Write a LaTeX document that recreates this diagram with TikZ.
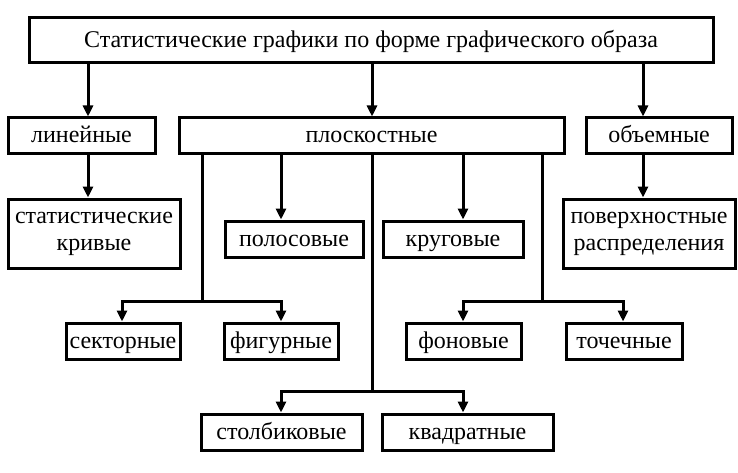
\documentclass[tikz,border=0pt]{standalone}
\usepackage{fontspec}
\setmainfont{Liberation Serif}
\usetikzlibrary{arrows.meta}
\newcommand{\toprule}{\rule{0pt}{16pt}}
\newcommand{\botrule}{\rule[-10pt]{0pt}{10pt}}
\begin{document}
\begin{tikzpicture}[x=1pt,y=-1pt,
  boxbase/.style={draw,line width=3pt,inner sep=0pt,align=center,font=\fontsize{24}{27}\selectfont},
  box/.style={boxbase,text height=18pt,text depth=4pt},
  twobox/.style={boxbase},
  conn/.style={line width=3pt},
  arr/.style={conn,-{Triangle[width=10pt,length=11pt]}}]
\useasboundingbox (0,0) rectangle (738,473);
\node[box,minimum width=684pt,minimum height=45pt] (top) at (371,40.5) {Статистические графики по форме графического образа};
\node[box,minimum width=147pt,minimum height=36pt] (lin) at (81.5,136) {линейные};
\node[box,minimum width=385pt,minimum height=36pt] (plo) at (371.5,136) {плоскостные};
\node[box,minimum width=146pt,minimum height=36pt] (obe) at (659,136) {объемные};
\node[twobox,minimum width=172pt,minimum height=69pt] (sta) at (94,233.5) {\toprule статистические\\кривые\botrule};
\node[box,minimum width=138pt,minimum height=36pt] (pol) at (294,239) {полосовые};
\node[box,minimum width=140pt,minimum height=36pt] (kru) at (453,239) {круговые};
\node[twobox,minimum width=172pt,minimum height=69pt] (pov) at (649,233.5) {\toprule поверхностные\\распределения\botrule};
\node[box,minimum width=114pt,minimum height=36pt] (sek) at (123,341) {секторные};
\node[box,minimum width=114pt,minimum height=36pt] (fig) at (281,341) {фигурные};
\node[box,minimum width=115pt,minimum height=36pt] (fon) at (463.5,341) {фоновые};
\node[box,minimum width=116pt,minimum height=36pt] (toc) at (624,341) {точечные};
\node[box,minimum width=161pt,minimum height=36pt] (sto) at (281.5,432) {столбиковые};
\node[box,minimum width=171pt,minimum height=36pt] (kva) at (467.5,432) {квадратные};
% top level
\draw[arr] (top.south -| 88,0) -- (lin.north -| 88,0);
\draw[arr] (top.south -| 372,0) -- (plo.north -| 372,0);
\draw[arr] (top.south -| 643,0) -- (obe.north -| 643,0);
\draw[arr] (lin.south -| 88,0) -- (sta.north -| 88,0);
\draw[arr] (obe.south -| 643,0) -- (pov.north -| 643,0);
% plosk branches
\draw[arr] (plo.south -| 281,0) -- (pol.north -| 281,0);
\draw[arr] (plo.south -| 463,0) -- (kru.north -| 463,0);
\draw[conn] (plo.south -| 202,0) -- (202,301);
\draw[arr] (202,301) -| (sek.north -| 122,0);
\draw[arr] (202,301) -| (fig.north -| 281,0);
\draw[conn] (plo.south -| 542,0) -- (542,301);
\draw[arr] (542,301) -| (fon.north -| 463,0);
\draw[arr] (542,301) -| (toc.north -| 623,0);
\draw[conn] (plo.south -| 372,0) -- (372,391);
\draw[arr] (372,391) -| (sto.north -| 281,0);
\draw[arr] (372,391) -| (kva.north -| 463,0);
\end{tikzpicture}
\end{document}
